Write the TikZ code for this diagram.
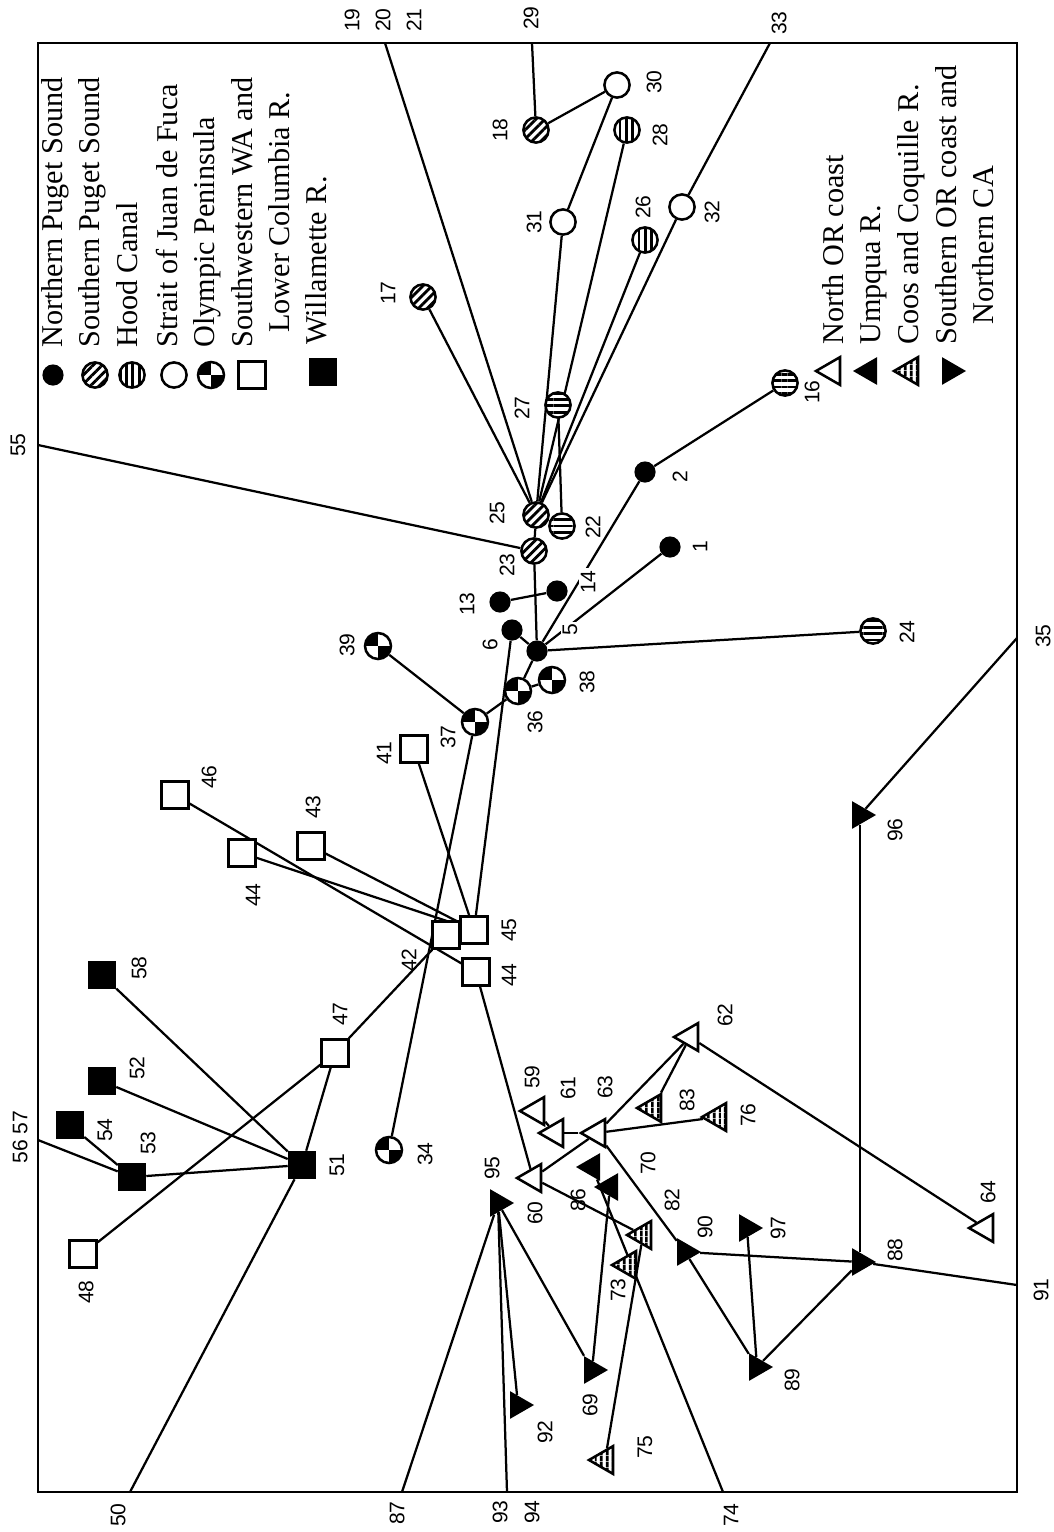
\documentclass[tikz,border=0pt]{standalone}
\usepackage{fontspec}
\setmainfont{Liberation Serif}
\newfontfamily\numfont{Liberation Sans}
\usetikzlibrary{shapes.geometric,patterns.meta,backgrounds}

\tikzset{
  conn/.style={line width=1.6pt},
  num/.style={rotate=90,font=\numfont\fontsize{15}{17}\selectfont,inner sep=0pt},
  numw/.style={num,fill=white,inner sep=1.5pt},
  legtext/.style={rotate=90,anchor=base west,font=\fontsize{21.5}{24}\selectfont,inner sep=0pt},
  mk/.style={draw,line width=1.8pt,inner sep=0pt},
  npsdot/.style={circle,fill=black,minimum size=5.3mm,inner sep=0pt},
  spsc/.style={mk,circle,minimum size=6.3mm,preaction={fill=white},pattern={Lines[angle=45,distance=4.5pt,line width=2pt]}},
  hcc/.style={mk,circle,minimum size=6.3mm,preaction={fill=white},pattern={Lines[angle=90,distance=4.5pt,line width=2pt]}},
  hzc/.style={mk,circle,minimum size=6.3mm,preaction={fill=white},pattern={Lines[angle=0,distance=4.5pt,line width=2pt]}},
  sjfc/.style={mk,circle,fill=white,minimum size=6.3mm},
  opc/.style={mk,circle,fill=white,minimum size=6.5mm,
    path picture={\fill[black] (path picture bounding box.center) rectangle (path picture bounding box.north west);
                  \fill[black] (path picture bounding box.center) rectangle (path picture bounding box.south east);}},
  swsq/.style={mk,rectangle,fill=white,minimum size=6.7mm},
  wilsq/.style={rectangle,fill=black,minimum size=7mm,inner sep=0pt},
  tri/.style={regular polygon,regular polygon sides=3,minimum size=8mm,inner sep=0pt},
  nort/.style={tri,mk,shape border rotate=90,fill=white},
  umpt/.style={tri,shape border rotate=90,fill=black},
  coost/.style={tri,mk,shape border rotate=90,preaction={fill=white},pattern={Lines[angle=90,distance=4pt,line width=2pt]}},
  soct/.style={tri,shape border rotate=-90,fill=black},
}

\begin{document}
\begin{tikzpicture}[x=0.25mm,y=-0.25mm]
\useasboundingbox (0,0) rectangle (1054,1532);
\draw[conn] (38,43) rectangle (1017,1492);

% legend, left
\node[npsdot] (l1) at (53,375) {};
\node[spsc] (l2) at (95,375) {};
\node[hcc] (l3) at (132,375) {};
\node[sjfc] (l4) at (174,375) {};
\node[opc] (l5) at (211,375) {};
\node[swsq] (l6) at (252,375) {};
\node[wilsq] (l7) at (323,372) {};
\node[legtext] at (62,348) {Northern Puget Sound};
\node[legtext] at (99,348) {Southern Puget Sound};
\node[legtext] at (137,348) {Hood Canal};
\node[legtext] at (177,348) {Strait of Juan de Fuca};
\node[legtext] at (214,348) {Olympic Peninsula};
\node[legtext] at (252,348) {Southwestern WA and};
\node[legtext] at (289,333) {Lower Columbia R.};
\node[legtext] at (326,345) {Willamette R.};

% legend, right
\node[nort] (l8) at (832,371) {};
\node[umpt] (l9) at (869,371) {};
\node[coost] (l10) at (910,371) {};
\node[soct] (l11) at (950,371) {};
\node[legtext] at (843,345) {North OR coast};
\node[legtext] at (880,345) {Umpqua R.};
\node[legtext] at (918,345) {Coos and Coquille R.};
\node[legtext] at (956,345) {Southern OR coast and};
\node[legtext] at (993,325) {Northern CA};

% ends on the frame
\coordinate (e55) at (38,445);
\coordinate (e19) at (385,43);
\coordinate (e29) at (532,43);
\coordinate (e33) at (770,43);
\coordinate (e35) at (1017,638);
\coordinate (e91) at (1017,1285);
\coordinate (e74) at (723,1492);
\coordinate (e93) at (507,1492);
\coordinate (e87) at (402,1492);
\coordinate (e50) at (130,1492);
\coordinate (e56) at (38,1140);
\node[num] at (18,445) {55};
\node[num] at (352,20) {19};
\node[num] at (383,20) {20};
\node[num] at (414,20) {21};
\node[num] at (531,18) {29};
\node[num] at (779,23) {33};
\node[num] at (1043,636) {35};
\node[num] at (1041,1290) {91};
\node[num] at (731,1515) {74};
\node[num] at (500,1512) {93};
\node[num] at (532,1512) {94};
\node[num] at (397,1513) {87};
\node[num] at (118,1515) {50};
\node[num] at (20,1137) {56 57};

% circles
\node[spsc] (c18) at (536,130) {};
\node[sjfc] (c30) at (617,85) {};
\node[hcc] (c28) at (627,130) {};
\node[sjfc] (c31) at (563,222) {};
\node[hcc] (c26) at (645,240) {};
\node[sjfc] (c32) at (682,207) {};
\node[spsc] (c17) at (423,297) {};
\node[hzc] (c27) at (558,405) {};
\node[hzc] (c16) at (785,383) {};
\node[spsc] (c25) at (536,515) {};
\node[hzc] (c22) at (562,526) {};
\node[spsc] (c23) at (534,551) {};
\node[npsdot] (c2) at (645,472) {};
\node[npsdot] (c1) at (670,547) {};
\node[npsdot] (c13) at (500,602) {};
\node[npsdot] (c14) at (557,591) {};
\node[npsdot] (c6) at (512,630) {};
\node[npsdot] (c5) at (537,651) {};
\node[hzc] (c24) at (873,631) {};
\node[opc] (c39) at (378,646) {};
\node[opc] (c38) at (552,680) {};
\node[opc] (c36) at (518,691) {};
\node[opc] (c37) at (475,722) {};
\node[opc] (c34) at (389,1150) {};
\node[num] at (500,130) {18};
\node[num] at (654,82) {30};
\node[num] at (660,135) {28};
\node[num] at (534,222) {31};
\node[num] at (643,207) {26};
\node[num] at (712,212) {32};
\node[num] at (388,293) {17};
\node[num] at (522,408) {27};
\node[num] at (812,392) {16};
\node[num] at (497,513) {25};
\node[num] at (593,527) {22};
\node[num] at (507,565) {23};
\node[num] at (680,477) {2};
\node[num] at (700,547) {1};
\node[num] at (467,604) {13};
\node[numw] at (588,582) {14};
\node[num] at (490,645) {6};
\node[numw] at (570,630) {5};
\node[num] at (907,632) {24};
\node[num] at (347,645) {39};
\node[num] at (587,682) {38};
\node[num] at (535,722) {36};
\node[num] at (448,737) {37};
\node[num] at (425,1154) {34};

% squares
\node[swsq] (s41) at (414,749) {};
\node[swsq] (s46) at (175,795) {};
\node[swsq] (s43) at (311,846) {};
\node[swsq] (s44a) at (242,853) {};
\node[swsq] (s42) at (446,935) {};
\node[swsq] (s45) at (474,930) {};
\node[swsq] (s44b) at (476,972) {};
\node[swsq] (s47) at (335,1053) {};
\node[swsq] (s48) at (83,1254) {};
\node[wilsq] (w58) at (102,975) {};
\node[wilsq] (w52) at (102,1081) {};
\node[wilsq] (w54) at (70,1125) {};
\node[wilsq] (w53) at (132,1177) {};
\node[wilsq] (w51) at (302,1165) {};
\node[num] at (384,753) {41};
\node[num] at (209,777) {46};
\node[num] at (313,807) {43};
\node[num] at (253,895) {44};
\node[num] at (409,960) {42};
\node[num] at (509,930) {45};
\node[num] at (509,975) {44};
\node[num] at (340,1014) {47};
\node[num] at (86,1292) {48};
\node[num] at (139,968) {58};
\node[num] at (137,1068) {52};
\node[num] at (105,1130) {54};
\node[num] at (148,1143) {53};
\node[num] at (337,1165) {51};

% triangles
\node[nort] (t62) at (690,1037) {};
\node[nort] (t59) at (536,1111) {};
\node[nort] (t61) at (555,1133) {};
\node[nort] (t63) at (597,1133) {};
\node[nort] (t60) at (533,1178) {};
\node[nort] (t64) at (985,1228) {};
\node[coost] (k83) at (653,1108) {};
\node[coost] (k76) at (718,1117) {};
\node[coost] (k82) at (643,1235) {};
\node[coost] (k73) at (628,1265) {};
\node[coost] (k75) at (605,1460) {};
\node[umpt] (u86) at (592,1167) {};
\node[umpt] (u70) at (610,1187) {};
\node[soct] (d95) at (498,1203) {};
\node[soct] (d90) at (685,1252) {};
\node[soct] (d97) at (747,1228) {};
\node[soct] (d88) at (860,1262) {};
\node[soct] (d89) at (757,1367) {};
\node[soct] (d96) at (860,815) {};
\node[soct] (d69) at (592,1370) {};
\node[soct] (d92) at (518,1405) {};
\node[num] at (725,1015) {62};
\node[num] at (532,1077) {59};
\node[num] at (568,1088) {61};
\node[num] at (605,1087) {63};
\node[num] at (535,1213) {60};
\node[num] at (988,1192) {64};
\node[num] at (687,1100) {83};
\node[num] at (748,1115) {76};
\node[num] at (672,1200) {82};
\node[num] at (618,1290) {73};
\node[num] at (645,1447) {75};
\node[num] at (578,1200) {86};
\node[num] at (648,1163) {70};
\node[num] at (492,1168) {95};
\node[num] at (705,1227) {90};
\node[num] at (778,1228) {97};
\node[num] at (895,1250) {88};
\node[num] at (792,1380) {89};
\node[num] at (895,830) {96};
\node[num] at (590,1405) {69};
\node[num] at (545,1432) {92};

\begin{scope}[on background layer]
\begin{scope}[conn]
\draw (e55) -- (c23);
\draw (e19) -- (c25);
\draw (e29) -- (c18);
\draw (c18) -- (c30);
\draw (c30) -- (c31);
\draw (c31) -- (c25);
\draw (c28) -- (c25);
\draw (c26) -- (c25);
\draw (e33) -- (c32);
\draw (c32) -- (c25);
\draw (c17) -- (c25);
\draw (c27) -- (c22);
\draw (c25) -- (c23);
\draw (c23) -- (c5);
\draw (c16) -- (c2);
\draw (c2) -- (c5);
\draw (c1) -- (c5);
\draw (c13) -- (c14);
\draw (c6) -- (c5);
\draw (c5) -- (c24);
\draw (c5) -- (c36);
\draw (c36) -- (c38);
\draw (c36) -- (c37);
\draw (c37) -- (c39);
\draw (c37) -- (c34);
\draw (c6) -- (s45);
\draw (s41) -- (s45);
\draw (s46) -- (s44b);
\draw (s44a) -- (s45);
\draw (s43) -- (s45);
\draw (s42) -- (s47);
\draw (s47) -- (s48);
\draw (s47) -- (w51);
\draw (w58) -- (w51);
\draw (w52) -- (w51);
\draw (w53) -- (w51);
\draw (w54) -- (w53);
\draw (e56) -- (w53);
\draw (e50) -- (w51);
\draw (s44b) -- (t60);
\draw (e35) -- (d96);
\draw (d96) -- (d88);
\draw (d88) -- (e91);
\draw (d90) -- (d88);
\draw (d89) -- (d88);
\draw (d89) -- (d97);
\draw (d90) -- (d89);
\draw (t64) -- (t62);
\draw (t62) -- (t63);
\draw (t62) -- (k83);
\draw (t63) -- (k76);
\draw (t59) -- (t61);
\draw (t61) -- (t63);
\draw (t60) -- (t63);
\draw (t63) -- (d90);
\draw (t60) -- (k82);
\draw (k75) -- (k82);
\draw (u86) -- (e74);
\draw (d69) -- (u70);
\draw (e87) -- (d95);
\draw (e93) -- (d95);
\draw (d95) -- (d92);
\draw (d95) -- (d69);
\end{scope}
\end{scope}
\end{tikzpicture}
\end{document}
